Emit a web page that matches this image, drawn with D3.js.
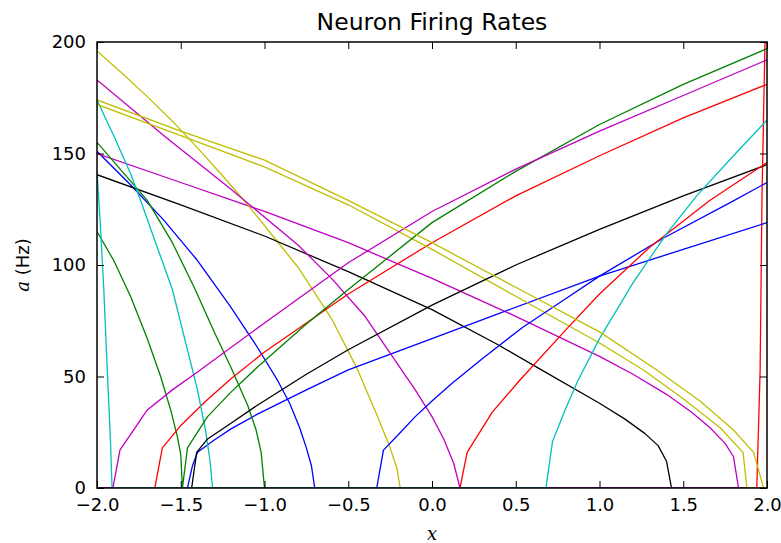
<!DOCTYPE html>
<html>
<head>
<meta charset="utf-8">
<script src="https://cdn.jsdelivr.net/npm/d3@7"></script>
<style>
  html, body { margin: 0; padding: 0; background: #ffffff; }
  svg { display: block; font-family: "DejaVu Sans", sans-serif; }
</style>
</head>
<body>
<svg id="chart" width="781" height="543"></svg>
<script>
// Tick values
const xTicks = [-2.0, -1.5, -1.0, -0.5, 0.0, 0.5, 1.0, 1.5, 2.0];
const yTicks = [0, 50, 100, 150, 200];

// Tuning curves: [x, firing rate in Hz]
const blueDec   = [[-2,151],[-1.8,136],[-1.6,120],[-1.4,102],[-1.2,81],[-1.05,64],[-0.92,48],[-0.85,38],[-0.79,27],[-0.75,18],[-0.72,10],[-0.70,0],[2,0]];
const greenDecA = [[-2,115],[-1.9,102],[-1.8,86],[-1.7,67],[-1.62,50],[-1.56,35],[-1.52,23],[-1.5,15],[-1.49,0],[2,0]];
const redVert   = [[-2,0],[1.939,0],[1.959,53],[1.97,130],[1.988,200],[2,235]];
const cyanDecA  = [[-2,142],[-1.98,118],[-1.96,90],[-1.94,55],[-1.92,22],[-1.91,0],[2,0]];
const magDecB   = [[-2,150],[-1.5,137],[-1,124],[-0.5,110],[0,94],[0.5,77],[1,59],[1.2,51],[1.4,42],[1.55,34],[1.66,27],[1.75,20],[1.8,14],[1.83,0],[2,0]];
const yelDec    = [[-2,196],[-1.85,186],[-1.7,175.5],[-1.55,164.5],[-1.4,152.5],[-1.25,140],[-1.1,127],[-0.95,113],[-0.8,99],[-0.6,76],[-0.45,54],[-0.33,33],[-0.25,18],[-0.21,9],[-0.19,0],[2,0]];
const blackDec  = [[-2,140.5],[-1.5,127],[-1,113],[-0.5,97],[0,80],[0.4,64],[0.63,54],[1,38],[1.15,31],[1.27,24.5],[1.35,19],[1.4,12],[1.43,0],[2,0]];
const blueIncA  = [[-2,0],[-1.46,0],[-1.43,10],[-1.40,16],[-1.3,21.5],[-1.2,26.5],[-1.045,33],[-0.75,44],[-0.5,53],[0,67],[0.39,78],[1,95],[1.5,107],[2,119]];
const greenDecB = [[-2,155],[-1.85,142],[-1.7,129],[-1.55,110],[-1.42,90],[-1.3,70],[-1.2,54],[-1.1,37],[-1.05,26],[-1.02,16],[-1.0,0],[2,0]];
const redIncA   = [[-2,0],[-1.655,0],[-1.61,18],[-1.5,28],[-1.35,39],[-1.2,49],[-1.0,61],[-0.75,74],[-0.5,87],[0,110],[0.5,131],[1,149],[1.5,166],[2,181]];
const cyanDecB  = [[-2,174],[-1.9,158],[-1.8,141],[-1.74,129],[-1.65,110],[-1.55,89],[-1.47,65],[-1.4,44],[-1.35,25],[-1.325,12],[-1.31,0],[2,0]];
const magDecA   = [[-2,183],[-1.6,158],[-1.2,134],[-0.8,109],[-0.6,94],[-0.4,77],[-0.2,55],[-0.1,44],[0,32],[0.07,22],[0.13,11],[0.167,0],[2,0]];
const yelDecA   = [[-2,172],[-1.5,158],[-1,144],[-0.5,127],[0,107],[0.5,86],[1,65],[1.26,53],[1.5,40],[1.72,27],[1.857,16],[1.88,0],[2,0]];
const blackInc  = [[-2,0],[-1.435,0],[-1.405,16],[-1.34,22],[-1.2,29],[-1.045,37],[-0.75,51],[-0.5,62],[0,82],[0.5,100],[1,116],[1.5,131],[2,145]];
const blueIncB  = [[-2,0],[-0.33,0],[-0.29,17],[-0.2,24],[-0.1,32],[0,39],[0.12,47],[0.3,58],[0.54,72],[0.8,85],[1.0,95],[1.38,112],[1.78,128],[2,137]];
const greenInc  = [[-2,0],[-1.49,0],[-1.46,18],[-1.34,32],[-1.2,43],[-1.045,54],[-0.75,73.5],[-0.5,89],[0,119],[0.5,142],[1,163],[1.5,181],[2,197]];
const redIncB   = [[-2,0],[0.167,0],[0.21,16],[0.36,34],[0.52,48],[0.8,71],[1.0,87],[1.3,108],[1.66,129],[2,146]];
const cyanInc   = [[-2,0],[0.68,0],[0.72,21],[0.8,36],[0.87,48],[1.0,67],[1.2,92],[1.4,114],[1.58,131],[1.8,149],[2,165]];
const magInc    = [[-2,0],[-1.905,0],[-1.863,17],[-1.7,35],[-1.55,44],[-1.4,52],[-1.0,74],[-0.5,101],[0,124],[0.5,143],[1,160],[1.5,176],[2,192]];
const yelDecB   = [[-2,174],[-1.5,160],[-1,147],[-0.5,129],[0,110],[0.5,90],[1,70],[1.34,53],[1.6,39],[1.8,26],[1.92,16],[1.98,0],[2,0]];

// Plotting order (follows the b, g, r, c, m, y, k colour cycle)
const neurons = [blueDec, greenDecA, redVert, cyanDecA, magDecB, yelDec, blackDec,
                 blueIncA, greenDecB, redIncA, cyanDecB, magDecA, yelDecA, blackInc,
                 blueIncB, greenInc, redIncB, cyanInc, magInc, yelDecB];
const cycle = ["#0000ff", "#008000", "#ff0000", "#00bfbf", "#bf00bf", "#bfbf00", "#000000"];

const W = 781, H = 543;
const margin = {left: 97, right: 14, top: 42, bottom: 55};
const svg = d3.select("#chart");

const x = d3.scaleLinear().domain([-2, 2]).range([margin.left, W - margin.right]);
const y = d3.scaleLinear().domain([0, 200]).range([H - margin.bottom, margin.top]);

svg.append("defs").append("clipPath").attr("id", "plotClip")
  .append("rect")
  .attr("x", x(-2)).attr("y", y(200))
  .attr("width", x(2) - x(-2)).attr("height", y(0) - y(200));

const line = d3.line().x(d => x(d[0])).y(d => y(d[1]));

svg.append("g").attr("clip-path", "url(#plotClip)")
  .selectAll("path").data(neurons).join("path")
  .attr("d", line)
  .attr("fill", "none")
  .attr("stroke", (d, i) => cycle[i % cycle.length])
  .attr("stroke-width", 1.3)
  .attr("stroke-linejoin", "round");

const fmt = v => d3.format(".1f")(v).replace("-", "\u2212");
const tickLen = 7;

function styleAxis(g) {
  g.select(".domain").remove();
  g.selectAll(".tick line").attr("stroke", "#000").attr("stroke-width", 1);
  g.selectAll(".tick text").attr("fill", "#000")
    .style("font-family", "'DejaVu Sans', sans-serif").style("font-size", "18px");
}

svg.append("g").attr("transform", `translate(0,${y(0)})`)
  .call(d3.axisBottom(x).tickValues(xTicks).tickFormat(fmt).tickSizeInner(-tickLen).tickSizeOuter(0).tickPadding(10))
  .call(styleAxis);
svg.append("g").attr("transform", `translate(0,${y(200)})`)
  .call(d3.axisTop(x).tickValues(xTicks).tickFormat("").tickSizeInner(-tickLen).tickSizeOuter(0))
  .call(styleAxis);
svg.append("g").attr("transform", `translate(${x(-2)},0)`)
  .call(d3.axisLeft(y).tickValues(yTicks).tickFormat(d3.format("d")).tickSizeInner(-tickLen).tickSizeOuter(0).tickPadding(11))
  .call(styleAxis);
svg.append("g").attr("transform", `translate(${x(2)},0)`)
  .call(d3.axisRight(y).tickValues(yTicks).tickFormat("").tickSizeInner(-tickLen).tickSizeOuter(0))
  .call(styleAxis);

// Axes frame
svg.append("rect")
  .attr("x", x(-2)).attr("y", y(200))
  .attr("width", x(2) - x(-2)).attr("height", y(0) - y(200))
  .attr("fill", "none").attr("stroke", "#000").attr("stroke-width", 1.5);

// Title and axis labels
svg.append("text")
  .attr("x", (x(-2) + x(2)) / 2).attr("y", 30)
  .attr("text-anchor", "middle")
  .style("font-size", "23.5px").attr("fill", "#000")
  .text("Neuron Firing Rates");

svg.append("text")
  .attr("x", (x(-2) + x(2)) / 2).attr("y", 540)
  .attr("text-anchor", "middle")
  .style("font-family", "'DejaVu Serif', serif").style("font-style", "italic")
  .style("font-size", "18px").attr("fill", "#000")
  .text("x");

const yl = svg.append("text")
  .attr("transform", `translate(29,${(y(0) + y(200)) / 2}) rotate(-90)`)
  .attr("text-anchor", "middle")
  .style("font-size", "18px").attr("fill", "#000");
yl.append("tspan")
  .style("font-family", "'DejaVu Serif', serif").style("font-style", "italic")
  .text("a");
yl.append("tspan").text(" (Hz)");
</script>
</body>
</html>
